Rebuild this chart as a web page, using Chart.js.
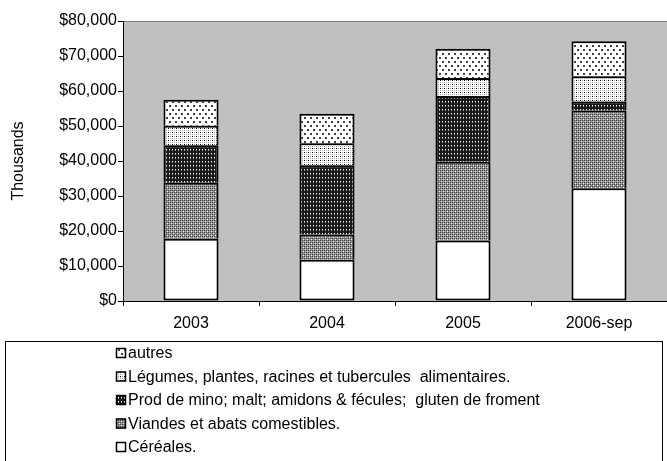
<!DOCTYPE html>
<html>
<head>
<meta charset="utf-8">
<script src="https://cdn.jsdelivr.net/npm/chart.js@4"></script>
<style>
  html, body { margin: 0; padding: 0; background: #fff; }
  #wrap { width: 667px; height: 461px; }
</style>
</head>
<body>
<div id="wrap"><canvas id="chart" width="667" height="461"></canvas></div>
<script>
// ---- data (values in $ thousands) ----
const categories = ['2003', '2004', '2005', '2006-sep'];
const cereales = [17800, 11800, 17300, 32200];
const viandes  = [16000, 7200, 22500, 22200];
const prod     = [10700, 19800, 18800, 2600];
const legumes  = [5600, 6300, 5100, 7200];
const autres   = [7400, 8400, 8400, 10000];
const yTicks   = [0, 10000, 20000, 30000, 40000, 50000, 60000, 70000, 80000];

const FONT = '"Liberation Sans", Arial, sans-serif';

/* -------------------------
   PATTERNS
--------------------------*/
function makePattern(w, h, bg, dots) {
    const c = document.createElement('canvas');
    c.width = w; c.height = h;
    const g = c.getContext('2d');
    g.fillStyle = bg;
    g.fillRect(0, 0, w, h);
    dots.forEach(d => {
        g.fillStyle = d[2];
        g.fillRect(d[0], d[1], d[3] || 1, d[4] || 1);
    });
    return g.createPattern(c, 'repeat');
}

const patCereales = '#ffffff';
const patViandes = makePattern(4, 4, '#969696', [
    [0, 0, '#404040'], [2, 0, '#404040'], [0, 2, '#404040'], [2, 2, '#404040'],
    [1, 1, '#e8e8e8'], [3, 3, '#e8e8e8']
]);
const patProd = makePattern(3, 4, '#1a1a1a', [
    [1, 1, '#ffffff'], [1, 2, '#8a8a8a']
]);
const patLegumes = makePattern(4, 4, '#ffffff', [
    [0, 0, '#000000'], [2, 0, '#9a9a9a'], [0, 2, '#9a9a9a'], [2, 2, '#b0b0b0']
]);
const patAutres = makePattern(6, 8, '#ffffff', [
    [1, 1, '#404040', 2, 2], [4, 5, '#404040', 2, 2]
]);

const upperBorder = { top: 2, left: 2, right: 2, bottom: 0 };

const series = [
    { label: 'Céréales.', data: cereales, backgroundColor: patCereales, borderWidth: 2 },
    { label: 'Viandes et abats comestibles.', data: viandes, backgroundColor: patViandes, borderWidth: upperBorder },
    { label: 'Prod de mino; malt; amidons & fécules;  gluten de froment', data: prod, backgroundColor: patProd, borderWidth: upperBorder },
    { label: 'Légumes, plantes, racines et tubercules  alimentaires.', data: legumes, backgroundColor: patLegumes, borderWidth: upperBorder },
    { label: 'autres', data: autres, backgroundColor: patAutres, borderWidth: upperBorder }
];

/* -------------------------
   PLUGINS
--------------------------*/
const plotBg = {
    id: 'plotBg',
    beforeDraw(chart) {
        const { ctx, chartArea: a } = chart;
        ctx.save();
        ctx.fillStyle = '#c0c0c0';
        ctx.fillRect(a.left, a.top, a.right - a.left, a.bottom - a.top);
        ctx.strokeStyle = '#808080';
        ctx.lineWidth = 1;
        ctx.beginPath();
        ctx.moveTo(a.left, a.top + 0.5);
        ctx.lineTo(a.right, a.top + 0.5);
        ctx.stroke();
        ctx.restore();
    }
};

// Excel-style boxed legend, reversed order
const boxLegend = {
    id: 'boxLegend',
    afterDraw(chart) {
        const ctx = chart.ctx;
        ctx.save();
        ctx.strokeStyle = '#000';
        ctx.lineWidth = 1;
        ctx.strokeRect(5.5, 341.5, 657, 125);

        const items = chart.data.datasets.slice().reverse();
        ctx.font = '16px ' + FONT;
        ctx.textBaseline = 'middle';
        items.forEach((ds, i) => {
            const y = 353 + i * 23.5;
            ctx.fillStyle = ds.backgroundColor;
            ctx.fillRect(116, y - 5, 10, 10);
            ctx.strokeStyle = '#000';
            ctx.lineWidth = 1.5;
            ctx.strokeRect(116.5, y - 4.5, 9, 9);
            ctx.fillStyle = '#000';
            ctx.fillText(ds.label, 128, y + 1);
        });
        ctx.restore();
    }
};

/* -------------------------
   CHART
--------------------------*/
new Chart(document.getElementById('chart'), {
    type: 'bar',
    data: {
        labels: categories,
        datasets: series.map(s => ({
            label: s.label,
            data: s.data,
            backgroundColor: s.backgroundColor,
            borderColor: '#000',
            borderWidth: s.borderWidth,
            borderSkipped: false,
            barPercentage: 0.405,
            categoryPercentage: 1
        }))
    },
    options: {
        responsive: false,
        animation: false,
        devicePixelRatio: 1,
        layout: { padding: { top: 21, right: 0, bottom: 118, left: 0 } },
        plugins: {
            legend: { display: false },
            tooltip: { enabled: false }
        },
        scales: {
            x: {
                stacked: true,
                offset: true,
                grid: {
                    offset: true,
                    drawOnChartArea: false,
                    drawTicks: true,
                    tickLength: 5,
                    color: '#000'
                },
                border: { color: '#000', width: 1 },
                ticks: { color: '#000', font: { family: FONT, size: 16 }, padding: 8 },
                afterFit(s) { s.height = 42; }
            },
            y: {
                stacked: true,
                min: 0,
                max: 80000,
                afterBuildTicks(s) { s.ticks = yTicks.map(v => ({ value: v })); },
                grid: {
                    drawOnChartArea: false,
                    drawTicks: true,
                    tickLength: 5,
                    color: '#000'
                },
                border: { color: '#000', width: 1 },
                ticks: {
                    color: '#000',
                    font: { family: FONT, size: 16 },
                    padding: 1,
                    callback: v => '$' + Number(v).toLocaleString('en-US')
                },
                title: {
                    display: true,
                    text: 'Thousands',
                    color: '#000',
                    font: { family: FONT, size: 16 },
                    padding: { top: 9, bottom: 0 }
                },
                afterFit(s) { s.width = 123; }
            }
        }
    },
    plugins: [plotBg, boxLegend]
});
</script>
</body>
</html>
